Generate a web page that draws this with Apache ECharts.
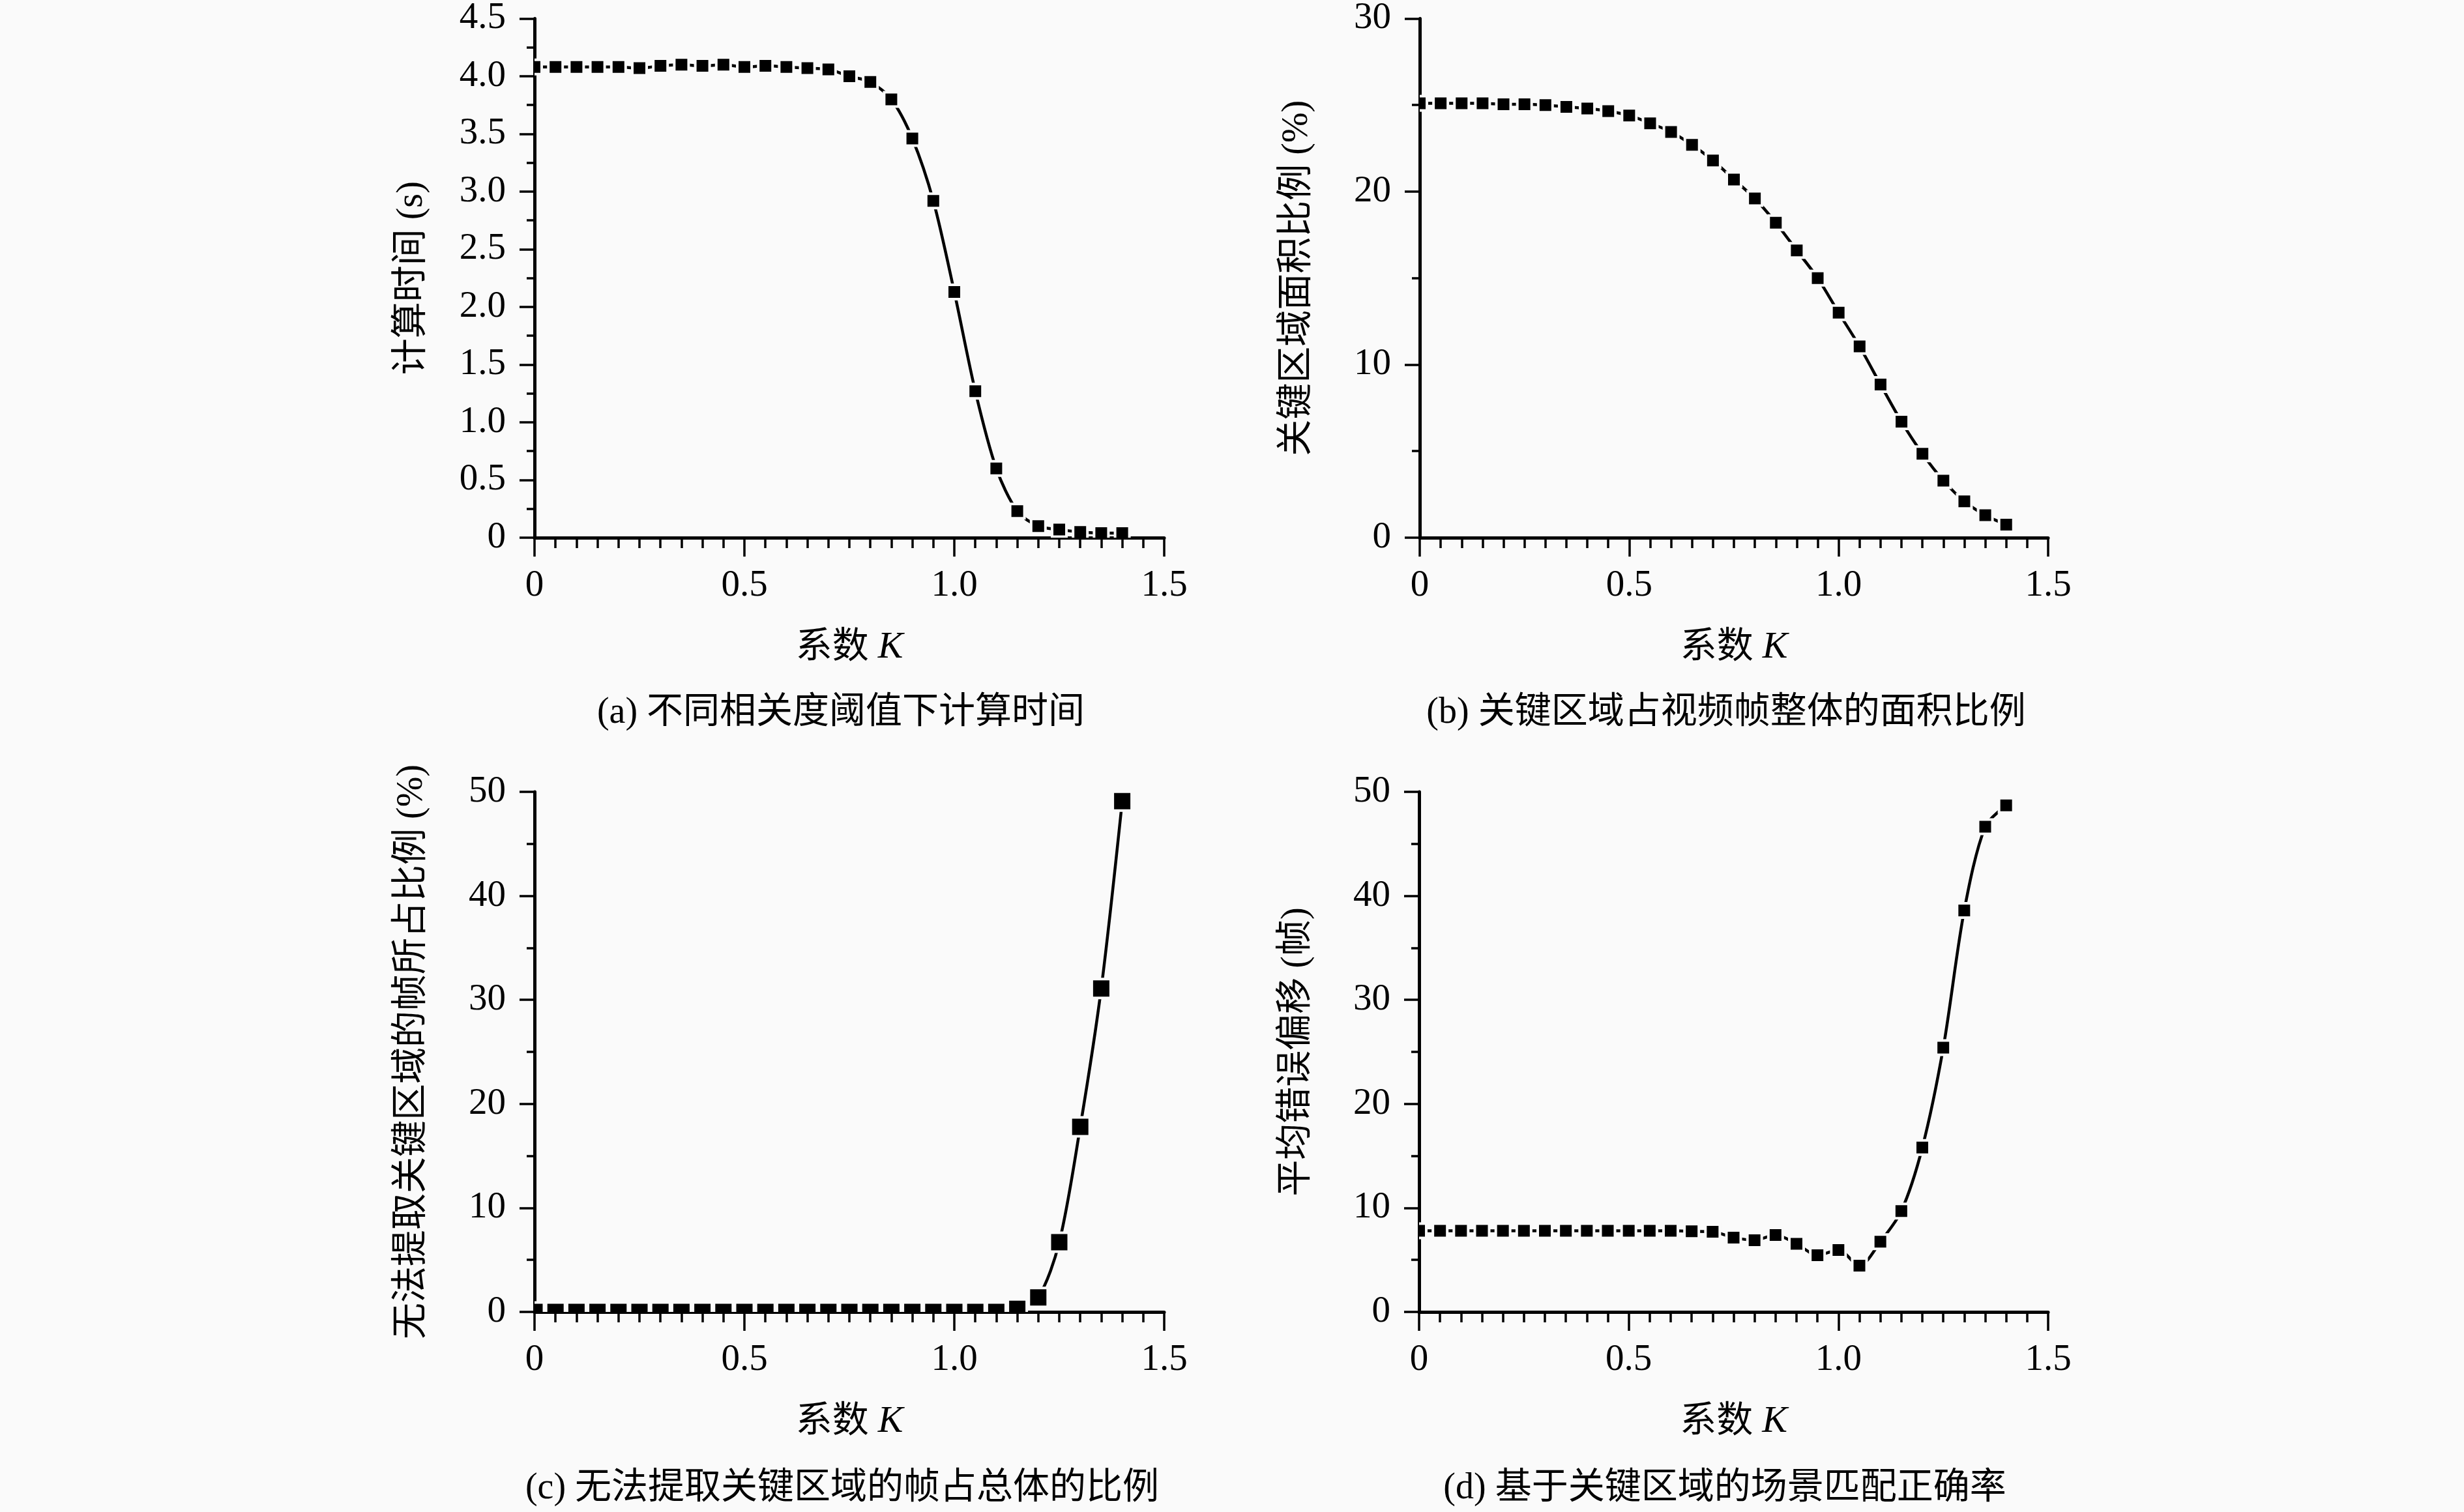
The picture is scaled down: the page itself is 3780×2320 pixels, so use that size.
<!DOCTYPE html>
<html>
<head>
<meta charset="utf-8">
<script src="https://cdn.jsdelivr.net/npm/echarts@6/dist/echarts.min.js"></script>
<style>
  html, body { margin: 0; padding: 0; background: #fafafa; }
  #chart { width: 3780px; height: 2320px; }
</style>
</head>
<body>
<div id="chart"></div>
<script>
// 系数 K
const kValues = [0, 0.05, 0.1, 0.15, 0.2, 0.25, 0.3, 0.35, 0.4, 0.45, 0.5, 0.55, 0.6, 0.65, 0.7,
                 0.75, 0.8, 0.85, 0.9, 0.95, 1.0, 1.05, 1.1, 1.15, 1.2, 1.25, 1.3, 1.35, 1.4];

// (a) 计算时间 (s)
const timeValues = [4.08, 4.08, 4.08, 4.08, 4.08, 4.07, 4.09, 4.10, 4.09, 4.10, 4.08, 4.09, 4.08, 4.07, 4.06,
                    4.00, 3.95, 3.80, 3.46, 2.92, 2.13, 1.27, 0.60, 0.23, 0.10, 0.07, 0.05, 0.04, 0.04];
// (b) 关键区域面积比例 (%)
const areaValues = [25.1, 25.1, 25.1, 25.1, 25.05, 25.05, 25.0, 24.9, 24.8, 24.65, 24.4, 23.95, 23.45, 22.7, 21.8,
                    20.7, 19.6, 18.2, 16.6, 15.0, 13.0, 11.05, 8.85, 6.7, 4.85, 3.3, 2.1, 1.3, 0.75];
// (c) 无法提取关键区域的帧所占比例 (%)
const failValues = [0, 0, 0, 0, 0, 0, 0, 0, 0, 0, 0, 0, 0, 0, 0,
                    0, 0, 0, 0, 0, 0, 0, 0, 0.3, 1.4, 6.7, 17.8, 31.1, 49.1];
// (d) 平均错误偏移 (帧)
const offsetValues = [7.8, 7.8, 7.8, 7.8, 7.8, 7.8, 7.8, 7.8, 7.8, 7.8, 7.8, 7.8, 7.8, 7.75, 7.7,
                      7.15, 6.9, 7.4, 6.55, 5.45, 5.95, 4.45, 6.75, 9.7, 15.8, 25.4, 38.6, 46.65, 48.7];

// tick labels
const xTickLabels = ['0', '0.5', '1.0', '1.5'];
const timeTickLabels = ['0', '0.5', '1.0', '1.5', '2.0', '2.5', '3.0', '3.5', '4.0', '4.5'];
const areaTickLabels = ['0', '10', '20', '30'];
const pctTickLabels = ['0', '10', '20', '30', '40', '50'];

const xName = '系数 {i|K}';
const yNames = ['计算时间 (s)', '关键区域面积比例 (%)', '无法提取关键区域的帧所占比例 (%)', '平均错误偏移 (帧)'];
const captions = ['(a) 不同相关度阈值下计算时间', '(b) 关键区域占视频帧整体的面积比例',
                  '(c) 无法提取关键区域的帧占总体的比例', '(d) 基于关键区域的场景匹配正确率'];

const FONT = "'Liberation Serif', 'Noto Sans CJK SC', serif";
const INK = '#000';
const BG = '#fafafa';

const grids = [
    { left: 820, top: 27, width: 966, height: 798 },
    { left: 2178, top: 27, width: 964, height: 798 },
    { left: 820, top: 1215, width: 966, height: 798 },
    { left: 2177, top: 1215, width: 965, height: 798 }
];

const panels = [
    { values: timeValues, max: 4.5, interval: 0.5, labels: timeTickLabels, mark: 22 },
    { values: areaValues, max: 30, interval: 10, labels: areaTickLabels, mark: 22 },
    { values: failValues, max: 50, interval: 10, labels: pctTickLabels, mark: 29 },
    { values: offsetValues, max: 50, interval: 10, labels: pctTickLabels, mark: 22 }
];

const captionPos = [[1290, 1066], [2648, 1066], [1292, 2256], [2646, 2256]];

function axisLineStyle() {
    return { show: true, lineStyle: { color: INK, width: 5 } };
}

const xAxes = panels.map((p, i) => ({
    type: 'value',
    gridIndex: i,
    min: 0,
    max: 1.5,
    interval: 0.5,
    axisLine: axisLineStyle(),
    axisTick: { show: true, length: 29, lineStyle: { color: INK, width: 3.5 } },
    minorTick: { show: true, splitNumber: 10, length: 16, lineStyle: { color: INK, width: 3.5 } },
    splitLine: { show: false },
    axisLabel: {
        fontFamily: FONT, fontSize: 57, color: INK, margin: 46,
        formatter: v => xTickLabels[Math.round(v / 0.5)]
    },
    name: xName,
    nameLocation: 'middle',
    nameGap: 140,
    nameTextStyle: {
        fontFamily: FONT, fontSize: 56, color: INK,
        rich: { i: { fontFamily: FONT, fontSize: 58, fontStyle: 'italic', color: INK } }
    }
}));

const yAxes = panels.map((p, i) => ({
    type: 'value',
    gridIndex: i,
    min: 0,
    max: p.max,
    interval: p.interval,
    axisLine: axisLineStyle(),
    axisTick: { show: true, length: 23, lineStyle: { color: INK, width: 3.5 } },
    minorTick: { show: true, splitNumber: 2, length: 12, lineStyle: { color: INK, width: 3.5 } },
    splitLine: { show: false },
    axisLabel: {
        fontFamily: FONT, fontSize: 57, color: INK, margin: 44,
        formatter: v => p.labels[Math.round(v / p.interval)]
    },
    name: yNames[i],
    nameLocation: 'middle',
    nameGap: 160,
    nameTextStyle: { fontFamily: FONT, fontSize: 56, color: INK }
}));

function squareMarker(size) {
    return function (params, api) {
        const pt = api.coord([api.value(0), api.value(1)]);
        return {
            type: 'rect',
            shape: { x: pt[0] - size / 2, y: pt[1] - size / 2, width: size, height: size },
            style: { fill: INK, stroke: BG, lineWidth: 4 }
        };
    };
}

const series = [];
panels.forEach((p, i) => {
    const pts = kValues.map((k, j) => [k, p.values[j]]);
    series.push({
        type: 'line',
        xAxisIndex: i,
        yAxisIndex: i,
        data: pts,
        smooth: 0.3,
        showSymbol: false,
        clip: true,
        lineStyle: { color: INK, width: 4.5 },
        z: 2
    });
    series.push({
        type: 'custom',
        xAxisIndex: i,
        yAxisIndex: i,
        data: pts,
        clip: true,
        renderItem: squareMarker(p.mark),
        z: 3
    });
});

const titles = captions.map((c, i) => ({
    text: c,
    left: captionPos[i][0],
    top: captionPos[i][1],
    textAlign: 'center',
    padding: 0,
    textStyle: { fontFamily: FONT, fontSize: 56, fontWeight: 'normal', color: INK }
}));

const option = {
    backgroundColor: BG,
    animation: false,
    title: titles,
    grid: grids,
    xAxis: xAxes,
    yAxis: yAxes,
    series: series
};

const myChart = echarts.init(document.getElementById('chart'));
myChart.setOption(option);
window.addEventListener('resize', myChart.resize);
</script>
</body>
</html>
